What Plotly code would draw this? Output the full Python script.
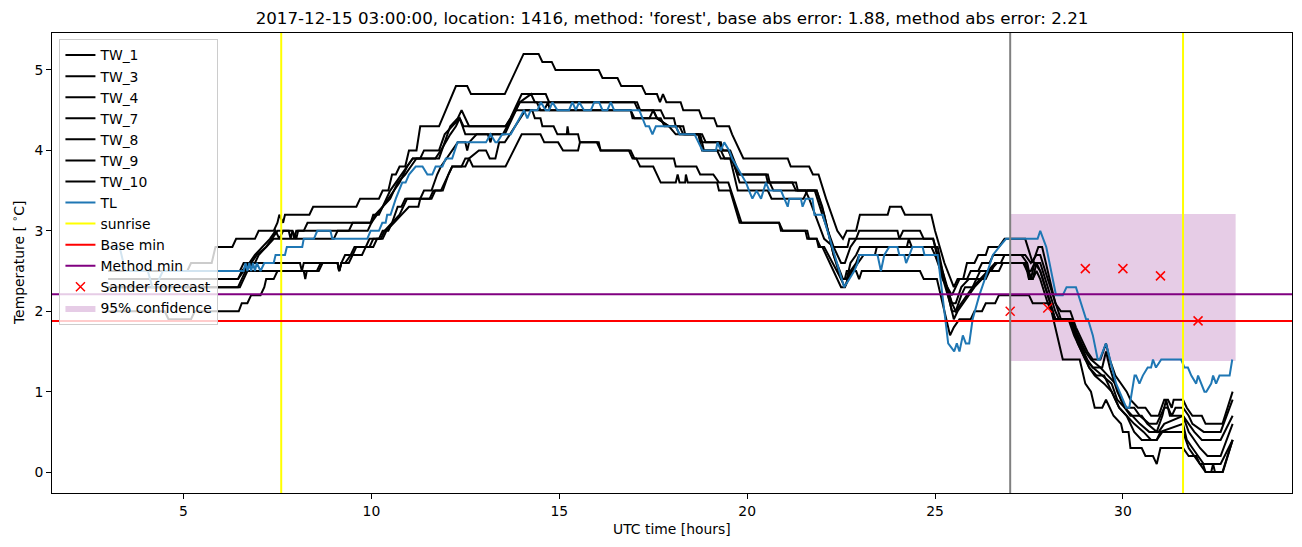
import plotly.graph_objects as go

# ---------------- data (hour, temperature) ----------------
tw1 = [(3.0,2.5),(5.1,2.5),(5.2,2.6),(5.75,2.6),(5.85,2.8),(6.3,2.8),(6.4,2.9),(6.9,2.9),(7.0,3.0),(7.4,3.0),
       (7.5,3.1),(7.55,3.2),(7.65,3.1),(7.7,3.2),(8.35,3.2),(8.45,3.3),(9.6,3.3),(9.7,3.4),(10.2,3.4),(10.3,3.5),
       (10.45,3.5),(10.55,3.7),(10.65,3.7),(10.75,3.8),(10.9,3.8),(11.0,4.0),(11.2,4.0),(11.3,4.3),(11.8,4.3),
       (12.25,4.8),(12.55,4.8),(12.65,4.7),(13.55,4.7),(13.65,4.8),(14.05,5.2),(14.45,5.2),(14.55,5.1),(14.8,5.1),
       (14.9,5.0),(16.05,5.0),(16.15,4.9),(16.55,4.9),(16.65,4.8),(17.2,4.8),(17.3,4.7),(17.6,4.7),(17.68,4.6),
       (17.76,4.7),(17.85,4.6),(18.23,4.6),(18.3,4.5),(18.72,4.5),(18.8,4.4),(19.12,4.4),(19.2,4.3),(19.52,4.3),
       (19.6,4.2),(19.9,3.9),(21.08,3.9),(21.16,3.8),(21.65,3.8),(21.75,3.7),(21.9,3.7),(22.1,3.4),(22.4,3.0),
       (22.55,2.9),(22.65,3.0),(22.9,3.0),(22.95,3.1),(23.0,3.2),(23.74,3.2),(23.8,3.3),(24.1,3.3),(24.2,3.2),
       (24.9,3.2),(25.0,3.0),(25.25,2.6),(25.5,2.3),(25.6,2.4),(25.75,2.4),(25.85,2.6),(26.05,2.6),(26.15,2.7),
       (26.35,2.7),(26.42,2.8),(26.7,2.8),(26.85,2.9),(27.4,2.9),(27.6,2.6),(27.75,2.8),(27.85,2.8),(28.0,2.5),
       (28.2,2.1),(28.35,2.0),(28.6,2.0),(28.75,1.8),(28.95,1.6),(29.05,1.5),(29.2,1.4),(29.4,1.4),(29.55,1.6),
       (29.65,1.4),(29.8,1.2),(29.95,1.1),(30.1,1.0),(30.2,0.9),(30.4,0.8),(30.6,0.8),(30.75,0.7),(30.95,0.7),
       (31.1,0.9),(31.2,0.9),(31.3,0.8),(31.35,0.9),(31.6,0.9),(31.7,0.8),(31.85,0.7),(32.1,0.7),(32.2,0.6),
       (32.65,0.6),(32.92,1.0)]

tw3 = [(3.0,2.5),(6.5,2.5),(6.6,2.6),(6.9,2.6),(7.0,2.7),(7.2,2.8),(7.35,2.9),(7.5,3.0),(7.9,3.0),(7.95,2.9),
       (8.0,3.0),(8.2,3.0),(8.3,3.1),(9.98,3.1),(10.05,3.2),(10.2,3.2),(10.3,3.3),(10.75,3.6),(10.95,3.8),
       (11.1,3.9),(11.8,3.9),(11.95,4.1),(12.1,4.3),(12.3,4.4),(12.4,4.5),(12.5,4.4),(12.6,4.3),(13.57,4.3),
       (13.7,4.4),(14.0,4.7),(14.64,4.7),(14.73,4.6),(17.07,4.6),(17.15,4.5),(17.7,4.5),(17.8,4.4),(18.05,4.4),
       (18.1,4.3),(18.3,4.3),(18.35,4.2),(18.8,4.2),(18.9,4.1),(19.3,4.1),(19.35,4.0),(19.55,4.0),(19.8,3.7),
       (20.55,3.7),(20.6,3.6),(21.3,3.6),(21.35,3.5),(21.55,3.5),(21.65,3.4),(22.05,2.9),(22.3,2.8),(22.67,2.8),
       (22.72,2.9),(22.9,2.9),(22.98,3.0),(24.0,3.0),(24.05,2.9),(24.15,3.0),(24.6,3.0),(24.7,2.9),(24.95,2.9),
       (25.2,2.4),(25.45,2.2),(25.55,2.3),(25.65,2.4),(25.85,2.4),(25.95,2.5),(26.15,2.5),(26.25,2.6),
       (26.45,2.6),(26.55,2.7),(27.4,2.7),(27.55,2.6),(27.7,2.7),(27.8,2.7),(28.0,2.4),(28.2,2.1),(28.35,1.9),
       (28.6,1.9),(28.8,1.7),(29.0,1.5),(29.15,1.4),(29.4,1.3),(29.6,1.2),(29.8,1.1),(29.95,0.9),(30.1,0.8),
       (30.3,0.8),(30.45,0.7),(30.7,0.6),(30.9,0.6),(31.1,0.8),(31.2,0.8),(31.3,0.7),(31.4,0.8),(31.6,0.8),
       (31.75,0.7),(31.85,0.6),(32.15,0.5),(32.6,0.5),(32.92,0.9)]

tw4 = [(3.0,2.4),(6.45,2.4),(6.55,2.5),(6.75,2.6),(6.9,2.7),(7.1,2.8),(7.3,2.9),(7.45,3.0),(7.55,2.9),
       (7.65,3.0),(7.8,3.0),(7.85,2.9),(7.9,3.0),(8.0,2.9),(8.05,3.0),(9.4,3.0),(9.5,3.1),(10.0,3.1),(10.1,3.2),
       (10.3,3.3),(10.5,3.4),(10.7,3.6),(10.9,3.7),(11.05,3.8),(11.2,3.9),(11.3,3.9),(11.4,4.0),(11.8,4.0),
       (11.95,4.2),(12.15,4.3),(12.35,4.4),(12.5,4.2),(13.5,4.2),(13.95,4.6),(14.25,4.7),(14.35,4.6),(17.0,4.6),
       (17.1,4.5),(17.5,4.5),(17.6,4.4),(17.92,4.3),(18.2,4.3),(18.3,4.2),(18.7,4.2),(18.8,4.1),(19.25,4.1),
       (19.35,4.0),(19.5,4.0),(19.75,3.7),(20.5,3.7),(20.55,3.6),(21.2,3.6),(21.3,3.5),(21.8,3.5),(22.0,3.2),
       (22.3,2.8),(22.5,2.6),(22.6,2.6),(22.75,2.8),(22.9,2.9),(24.95,2.9),(25.2,2.5),(25.45,2.1),(25.55,2.1),
       (25.7,2.3),(25.9,2.4),(26.1,2.4),(26.2,2.5),(26.5,2.5),(26.6,2.6),(26.75,2.6),(26.85,2.7),(27.3,2.7),
       (27.45,2.6),(27.55,2.4),(27.65,2.6),(27.8,2.6),(28.0,2.3),(28.2,2.0),(28.3,1.9),(28.65,1.9),(28.85,1.6),
       (29.05,1.4),(29.2,1.3),(29.45,1.3),(29.55,1.5),(29.65,1.3),(29.85,1.0),(30.05,0.8),(30.2,0.7),(30.5,0.7),
       (30.65,0.6),(30.9,0.5),(31.05,0.7),(31.15,0.9),(31.25,0.7),(31.6,0.7),(31.75,0.6),(31.9,0.5),(32.1,0.4),
       (32.6,0.4),(32.92,0.7)]

tw7 = [(3.0,2.4),(6.45,2.4),(6.6,2.5),(6.8,2.6),(6.95,2.7),(7.2,2.8),(7.4,2.9),(9.0,2.9),(9.1,3.0),(9.9,3.0),
       (10.0,3.1),(10.15,3.2),(10.3,3.3),(10.5,3.5),(10.65,3.6),(10.8,3.7),(10.95,3.8),(11.1,3.9),(11.7,3.9),
       (11.85,4.0),(12.1,4.2),(12.25,4.3),(12.35,4.4),(12.45,4.3),(13.57,4.3),(13.7,4.4),(13.85,4.5),(14.6,4.5),
       (14.7,4.6),(14.75,4.5),(16.9,4.5),(17.0,4.4),(17.4,4.4),(17.5,4.5),(17.6,4.4),(17.92,4.3),(18.1,4.2),
       (18.7,4.2),(18.8,4.0),(19.3,4.0),(19.4,3.9),(19.6,3.9),(19.8,3.6),(20.6,3.6),(20.7,3.5),(21.85,3.5),
       (22.0,3.3),(22.3,2.7),(22.55,2.4),(22.65,2.4),(22.75,2.6),(22.9,2.7),(23.0,2.8),(24.25,2.8),(24.3,2.9),
       (24.38,2.8),(25.07,2.8),(25.2,2.5),(25.45,2.0),(25.55,2.0),(25.7,2.2),(25.8,2.3),(26.0,2.3),(26.1,2.4),
       (26.35,2.4),(26.45,2.5),(26.7,2.5),(26.8,2.6),(27.4,2.6),(27.5,2.4),(27.6,2.4),(27.7,2.6),(27.8,2.5),
       (28.0,2.2),(28.2,1.9),(28.6,1.9),(28.8,1.6),(29.0,1.4),(29.2,1.3),(29.45,1.2),(29.7,1.1),(29.85,0.9),
       (30.05,0.8),(30.25,0.7),(30.45,0.6),(30.7,0.5),(30.95,0.5),(31.1,0.6),(31.6,0.7),(31.75,0.5),(31.9,0.4),
       (32.05,0.3),(32.25,0.2),(32.6,0.2),(32.92,0.6)]

tw8 = [(3.0,2.3),(6.45,2.3),(6.55,2.4),(6.65,2.5),(6.85,2.6),(8.1,2.6),(8.15,2.5),(8.2,2.6),(9.1,2.6),
       (9.15,2.5),(9.2,2.6),(9.3,2.7),(9.5,2.7),(9.6,2.8),(9.95,2.8),(10.05,2.9),(10.2,2.9),(10.3,3.0),
       (10.45,3.0),(10.55,3.1),(10.75,3.2),(10.95,3.4),(11.6,3.4),(11.7,3.5),(11.9,3.5),(12.05,3.7),(12.15,3.8),
       (12.5,3.8),(12.6,3.9),(12.86,4.0),(13.05,4.0),(13.15,3.9),(13.3,3.9),(13.4,4.1),(13.55,4.1),(14.1,4.5),
       (14.28,4.5),(14.35,4.4),(14.5,4.4),(14.55,4.3),(14.85,4.3),(14.95,4.2),(15.2,4.2),(15.22,4.3),(15.25,4.2),
       (15.5,4.2),(15.55,4.1),(16.0,4.1),(16.1,4.0),(16.9,4.0),(17.0,3.9),(18.05,3.9),(18.1,3.8),(18.65,3.8),
       (18.75,3.7),(19.1,3.7),(19.25,3.6),(19.5,3.6),(19.85,3.1),(20.85,3.1),(20.9,3.0),(21.55,3.0),(21.6,2.9),
       (21.85,2.9),(21.9,2.8),(22.0,2.8),(22.5,2.3),(22.6,2.3),(22.75,2.5),(22.9,2.6),(22.98,2.7),(23.4,2.7),
       (23.45,2.8),(24.9,2.8),(25.1,2.6),(25.45,2.1),(25.55,2.0),(25.7,2.1),(25.85,2.2),(26.0,2.3),(26.2,2.4),
       (26.4,2.5),(26.6,2.6),(27.35,2.6),(27.45,2.5),(27.55,2.5),(27.65,2.6),(27.8,2.5),(28.0,2.2),(28.2,1.9),
       (28.6,1.9),(28.75,1.7),(28.95,1.5),(29.1,1.3),(29.3,1.2),(29.5,1.2),(29.7,1.0),(29.9,0.8),(30.1,0.7),
       (30.3,0.6),(30.55,0.5),(30.75,0.4),(30.9,0.4),(31.0,0.5),(31.6,0.6),(31.7,0.4),(31.85,0.3),(32.0,0.2),
       (32.15,0.1),(32.6,0.1),(32.92,0.4)]

tw9 = [(3.0,2.3),(6.5,2.3),(6.6,2.4),(6.7,2.5),(8.2,2.5),(8.24,2.4),(8.28,2.5),(8.6,2.5),(8.7,2.6),(9.1,2.6),
       (9.14,2.5),(9.2,2.6),(9.3,2.6),(9.45,2.7),(9.55,2.8),(9.85,2.8),(9.95,2.9),(10.25,2.9),(10.35,3.0),
       (10.55,3.1),(10.7,3.3),(10.8,3.3),(10.9,3.4),(11.3,3.4),(11.4,3.5),(11.6,3.5),(11.75,3.7),(11.85,3.8),
       (12.0,3.9),(12.3,4.1),(12.5,4.1),(12.55,4.0),(12.6,4.1),(12.8,4.2),(13.1,4.2),(13.17,4.1),(13.22,4.2),
       (13.55,4.2),(13.95,4.6),(14.4,4.6),(14.5,4.5),(16.9,4.5),(16.95,4.4),(17.7,4.4),(17.8,4.3),(18.1,4.3),
       (18.2,4.2),(18.75,4.2),(18.85,4.0),(19.2,4.0),(19.3,3.9),(19.55,3.9),(19.75,3.5),(20.55,3.5),(20.65,3.4),
       (21.5,3.4),(21.6,3.5),(21.85,3.5),(22.05,3.2),(22.3,2.7),(22.5,2.4),(22.6,2.3),(22.7,2.4),(22.8,2.5),
       (22.95,2.6),(23.1,2.7),(25.0,2.7),(25.15,2.5),(25.4,2.1),(25.5,1.9),(25.6,2.0),(25.75,2.1),(25.9,2.2),
       (26.05,2.3),(26.25,2.4),(26.45,2.5),(26.65,2.6),(27.45,2.6),(27.5,2.4),(27.6,2.4),(27.7,2.5),(27.8,2.4),
       (28.0,2.1),(28.2,1.9),(28.55,1.9),(28.7,1.7),(28.9,1.5),(29.1,1.3),(29.25,1.2),(29.5,1.1),(29.7,1.0),
       (29.9,0.8),(30.1,0.7),(30.3,0.5),(30.5,0.4),(30.9,0.4),(31.05,0.5),(31.6,0.5),(31.75,0.3),(31.9,0.2),
       (32.05,0.1),(32.2,0.0),(32.35,0.0),(32.4,0.1),(32.45,0.0),(32.65,0.0),(32.92,0.4)]

tw10 = [(3.0,2.0),(4.5,2.0),(4.6,1.9),(5.2,1.9),(5.3,2.0),(6.47,2.0),(6.55,2.1),(6.7,2.1),(6.8,2.2),(7.05,2.2),
        (7.15,2.3),(7.2,2.4),(7.4,2.4),(7.5,2.5),(8.55,2.5),(8.65,2.6),(9.1,2.6),(9.14,2.5),(9.2,2.6),(9.4,2.6),
        (9.5,2.7),(9.75,2.7),(9.85,2.8),(10.05,2.8),(10.15,2.9),(10.3,2.9),(10.4,3.0),(10.6,3.1),(10.8,3.2),
        (11.0,3.3),(11.25,3.3),(11.3,3.4),(11.55,3.4),(11.65,3.5),(11.85,3.5),(12.05,3.7),(12.15,3.8),(12.4,3.8),
        (12.5,3.9),(12.6,3.9),(12.7,3.8),(13.57,3.8),(13.9,4.1),(14.0,4.2),(14.5,4.2),(14.6,4.1),(14.97,4.1),
        (15.1,4.0),(15.5,4.0),(15.55,4.1),(16.05,4.1),(16.1,4.0),(16.85,4.0),(16.95,3.9),(17.05,3.9),(17.15,3.8),
        (17.5,3.8),(17.7,3.6),(18.1,3.6),(18.15,3.7),(18.2,3.6),(18.35,3.6),(18.37,3.7),(18.42,3.6),(19.2,3.6),
        (19.25,3.5),(19.55,3.5),(19.8,3.1),(20.85,3.1),(20.95,3.0),(21.6,3.0),(21.65,2.9),(21.85,2.9),(21.95,2.8),
        (22.05,2.8),(22.5,2.4),(22.6,2.4),(22.65,2.5),(22.9,2.5),(22.98,2.4),(23.05,2.5),(24.6,2.5),(24.7,2.4),
        (25.05,2.4),(25.3,1.9),(25.4,1.7),(25.5,1.8),(25.65,1.9),(25.95,1.9),(26.05,2.0),(26.25,2.0),(26.35,2.1),
        (26.6,2.1),(26.7,2.2),(27.5,2.2),(27.6,2.1),(28.05,2.1),(28.3,1.6),(28.4,1.4),(28.85,1.4),(29.0,1.1),
        (29.15,1.0),(29.25,0.8),(29.45,0.8),(29.55,0.9),(29.65,0.8),(29.75,0.7),(29.95,0.6),(30.0,0.5),(30.15,0.5),
        (30.2,0.3),(30.5,0.3),(30.6,0.2),(30.8,0.2),(30.9,0.1),(31.0,0.3),(31.6,0.3),(31.75,0.2),(31.95,0.2),
        (32.05,0.1),(32.13,0.1),(32.2,0.0),(32.66,0.0),(32.92,0.4)]

tl = [(3.0,2.8),(3.3,2.8),(3.45,2.5),(4.05,2.5),(4.17,2.3),(4.25,2.3),(4.45,2.5),(6.6,2.5),(6.65,2.6),(6.7,2.5),
      (6.75,2.6),(6.8,2.5),(6.85,2.6),(6.9,2.5),(6.95,2.6),(7.05,2.5),(7.15,2.6),(7.4,2.6),(7.45,2.7),(7.7,2.7),
      (7.75,2.8),(8.16,2.8),(8.2,2.9),(8.47,2.9),(8.56,3.0),(8.91,3.0),(8.96,2.9),(9.89,2.9),(9.98,3.0),
      (10.2,3.0),(10.29,3.1),(10.38,3.1),(10.42,3.2),(10.51,3.2),(10.65,3.4),(10.82,3.6),(10.91,3.6),(11.0,3.7),
      (11.18,3.8),(11.36,3.8),(11.49,3.7),(11.62,3.7),(11.71,3.8),(11.89,3.8),(11.98,3.9),(12.15,3.9),
      (12.29,4.1),(13.05,4.1),(13.17,4.2),(13.3,4.1),(13.35,4.1),(13.48,4.2),(13.71,4.2),(14.06,4.5),(14.15,4.4),
      (14.24,4.5),(14.42,4.5),(14.51,4.6),(14.64,4.5),(14.73,4.5),(14.82,4.6),(14.95,4.5),(15.26,4.5),
      (15.35,4.6),(15.44,4.5),(15.53,4.6),(15.66,4.5),(15.84,4.5),(15.93,4.6),(16.06,4.6),(16.15,4.5),
      (16.28,4.5),(16.37,4.6),(16.46,4.5),(17.13,4.5),(17.3,4.3),(17.39,4.3),(17.48,4.2),(17.57,4.3),(18.1,4.3),
      (18.2,4.2),(18.6,4.2),(18.81,4.0),(19.17,4.0),(19.21,4.1),(19.3,4.0),(19.39,4.1),(19.52,4.0),(19.6,3.9),
      (19.97,3.6),(20.05,3.5),(20.14,3.4),(20.25,3.5),(20.37,3.4),(20.5,3.6),(20.59,3.5),(20.9,3.5),(21.08,3.3),
      (21.12,3.4),(21.43,3.4),(21.475,3.3),(21.56,3.4),(21.74,3.4),(21.79,3.2),(22.01,3.2),(22.27,2.8),
      (22.58,2.3),(22.72,2.4),(22.85,2.5),(22.94,2.6),(22.98,2.7),(23.47,2.7),(23.56,2.5),(23.65,2.7),
      (23.78,2.8),(24.0,2.8),(24.05,2.7),(24.18,2.7),(24.23,2.6),(24.32,2.7),(24.4,2.8),(24.67,2.8),(24.72,2.7),
      (25.07,2.7),(25.35,1.6),(25.51,1.5),(25.58,1.6),(25.65,1.5),(25.74,1.7),(25.82,1.6),(25.91,1.6),
      (26.0,1.9),(26.18,2.2),(26.4,2.5),(26.54,2.7),(26.71,2.8),(26.89,2.9),(27.73,2.9),(27.8,3.0),(27.96,2.8),
      (28.22,2.2),(28.4,2.2),(28.5,2.3),(28.75,2.3),(29.02,1.9),(29.07,1.9),(29.2,1.7),(29.33,1.4),(29.38,1.4),
      (29.55,1.6),(29.82,1.1),(30.09,0.8),(30.17,0.8),(30.31,1.2),(30.35,1.2),(30.44,1.1),(30.53,1.2),
      (30.66,1.3),(30.75,1.3),(30.8,1.4),(30.88,1.3),(31.02,1.4),(31.55,1.4),(31.64,1.3),(31.73,1.3),
      (31.82,1.2),(31.95,1.1),(32.0,1.2),(32.08,1.1),(32.17,1.0),(32.22,1.0),(32.35,1.1),(32.4,1.2),(32.48,1.1),
      (32.57,1.2),(32.84,1.2),(32.91,1.4)]

tw_names = ["TW_1", "TW_3", "TW_4", "TW_7", "TW_8", "TW_9", "TW_10"]
tw_series = [tw1, tw3, tw4, tw7, tw8, tw9, tw10]

sunrise_hours = [7.6, 31.6]
forecast_start = 27.0
base_min = 1.88
method_min = 2.21
sander_hours = [27, 28, 29, 30, 31, 32]
sander_values = [2.00, 2.04, 2.53, 2.53, 2.44, 1.88]
conf_hours = [27.0, 33.0]
conf_low = 1.38
conf_high = 3.21

x_range = [1.5, 34.5]
y_range = [-0.26, 5.46]
x_ticks = [5, 10, 15, 20, 25, 30]
y_ticks = [0, 1, 2, 3, 4, 5]

title_text = "2017-12-15 03:00:00, location: 1416, method: 'forest', base abs error: 1.88, method abs error: 2.21"

# ---------------- figure ----------------
FONT = "DejaVu Sans"
fig = go.Figure()

# confidence band (drawn below lines, like matplotlib zorder)
fig.add_trace(go.Scatter(
    x=[conf_hours[0], conf_hours[1], conf_hours[1], conf_hours[0], conf_hours[0]],
    y=[conf_low, conf_low, conf_high, conf_high, conf_low],
    fill="toself", fillcolor="rgba(128,0,128,0.2)", line=dict(width=0),
    mode="lines", name="95% confidence", legendrank=13, hoverinfo="skip"))

for name, s in zip(tw_names, tw_series):
    fig.add_trace(go.Scatter(x=[p[0] for p in s], y=[p[1] for p in s], mode="lines",
                             line=dict(color="black", width=2), name=name))

fig.add_trace(go.Scatter(x=[p[0] for p in tl], y=[p[1] for p in tl], mode="lines",
                         line=dict(color="#1f77b4", width=2), name="TL"))

sx, sy = [], []
for h in sunrise_hours:
    sx += [h, h, None]
    sy += [y_range[0], y_range[1], None]
fig.add_trace(go.Scatter(x=sx, y=sy, mode="lines", line=dict(color="yellow", width=2), name="sunrise"))

fig.add_trace(go.Scatter(x=x_range, y=[base_min, base_min], mode="lines",
                         line=dict(color="red", width=2), name="Base min"))
fig.add_trace(go.Scatter(x=x_range, y=[method_min, method_min], mode="lines",
                         line=dict(color="purple", width=2), name="Method min"))
fig.add_trace(go.Scatter(x=sander_hours, y=sander_values, mode="markers",
                         marker=dict(symbol="x-thin", size=9, color="red",
                                     line=dict(color="red", width=1.5)),
                         name="Sander forecast"))

# ordering of legend ranks
for i, tr in enumerate(fig.data[1:], start=1):
    tr.legendrank = i

fig.add_shape(type="line", x0=forecast_start, x1=forecast_start, y0=0, y1=1,
              xref="x", yref="paper", line=dict(color="gray", width=2), layer="above")

axis_common = dict(showline=True, mirror=True, linecolor="black", linewidth=1,
                   ticks="outside", ticklen=5, tickwidth=1, tickcolor="black",
                   showgrid=False, zeroline=False,
                   tickfont=dict(family=FONT, size=13.9, color="black"))

fig.update_layout(
    width=1302, height=547,
    margin=dict(l=52, r=10, t=33, b=54),
    paper_bgcolor="white", plot_bgcolor="white",
    font=dict(family=FONT, size=13.9, color="black"),
    xaxis=dict(range=x_range, tickvals=x_ticks, **axis_common),
    yaxis=dict(range=y_range, tickvals=y_ticks, **axis_common),
    title=dict(text=title_text, x=672/1302, xanchor="center", y=1-18/547, yanchor="middle",
               font=dict(family=FONT, size=16.7, color="black")),
    legend=dict(x=0.006, y=0.988, xanchor="left", yanchor="top",
                bgcolor="rgba(255,255,255,0.8)", bordercolor="#cccccc", borderwidth=1,
                font=dict(family=FONT, size=13.9, color="black"),
                itemwidth=30, traceorder="normal"),
    showlegend=True,
    annotations=[
        dict(text="UTC time [hours]", xref="paper", yref="paper", x=0.5, y=-(529-493.3)/460.6,
             xanchor="center", yanchor="middle", showarrow=False,
             font=dict(family=FONT, size=13.9, color="black")),
        dict(text="Temperature [ <sup>∘</sup>C]", xref="paper", yref="paper", x=(18-52)/1240, y=0.5,
             xanchor="center", yanchor="middle", textangle=-90, showarrow=False,
             font=dict(family=FONT, size=13.9, color="black")),
    ],
)

fig.write_html("out.html")
